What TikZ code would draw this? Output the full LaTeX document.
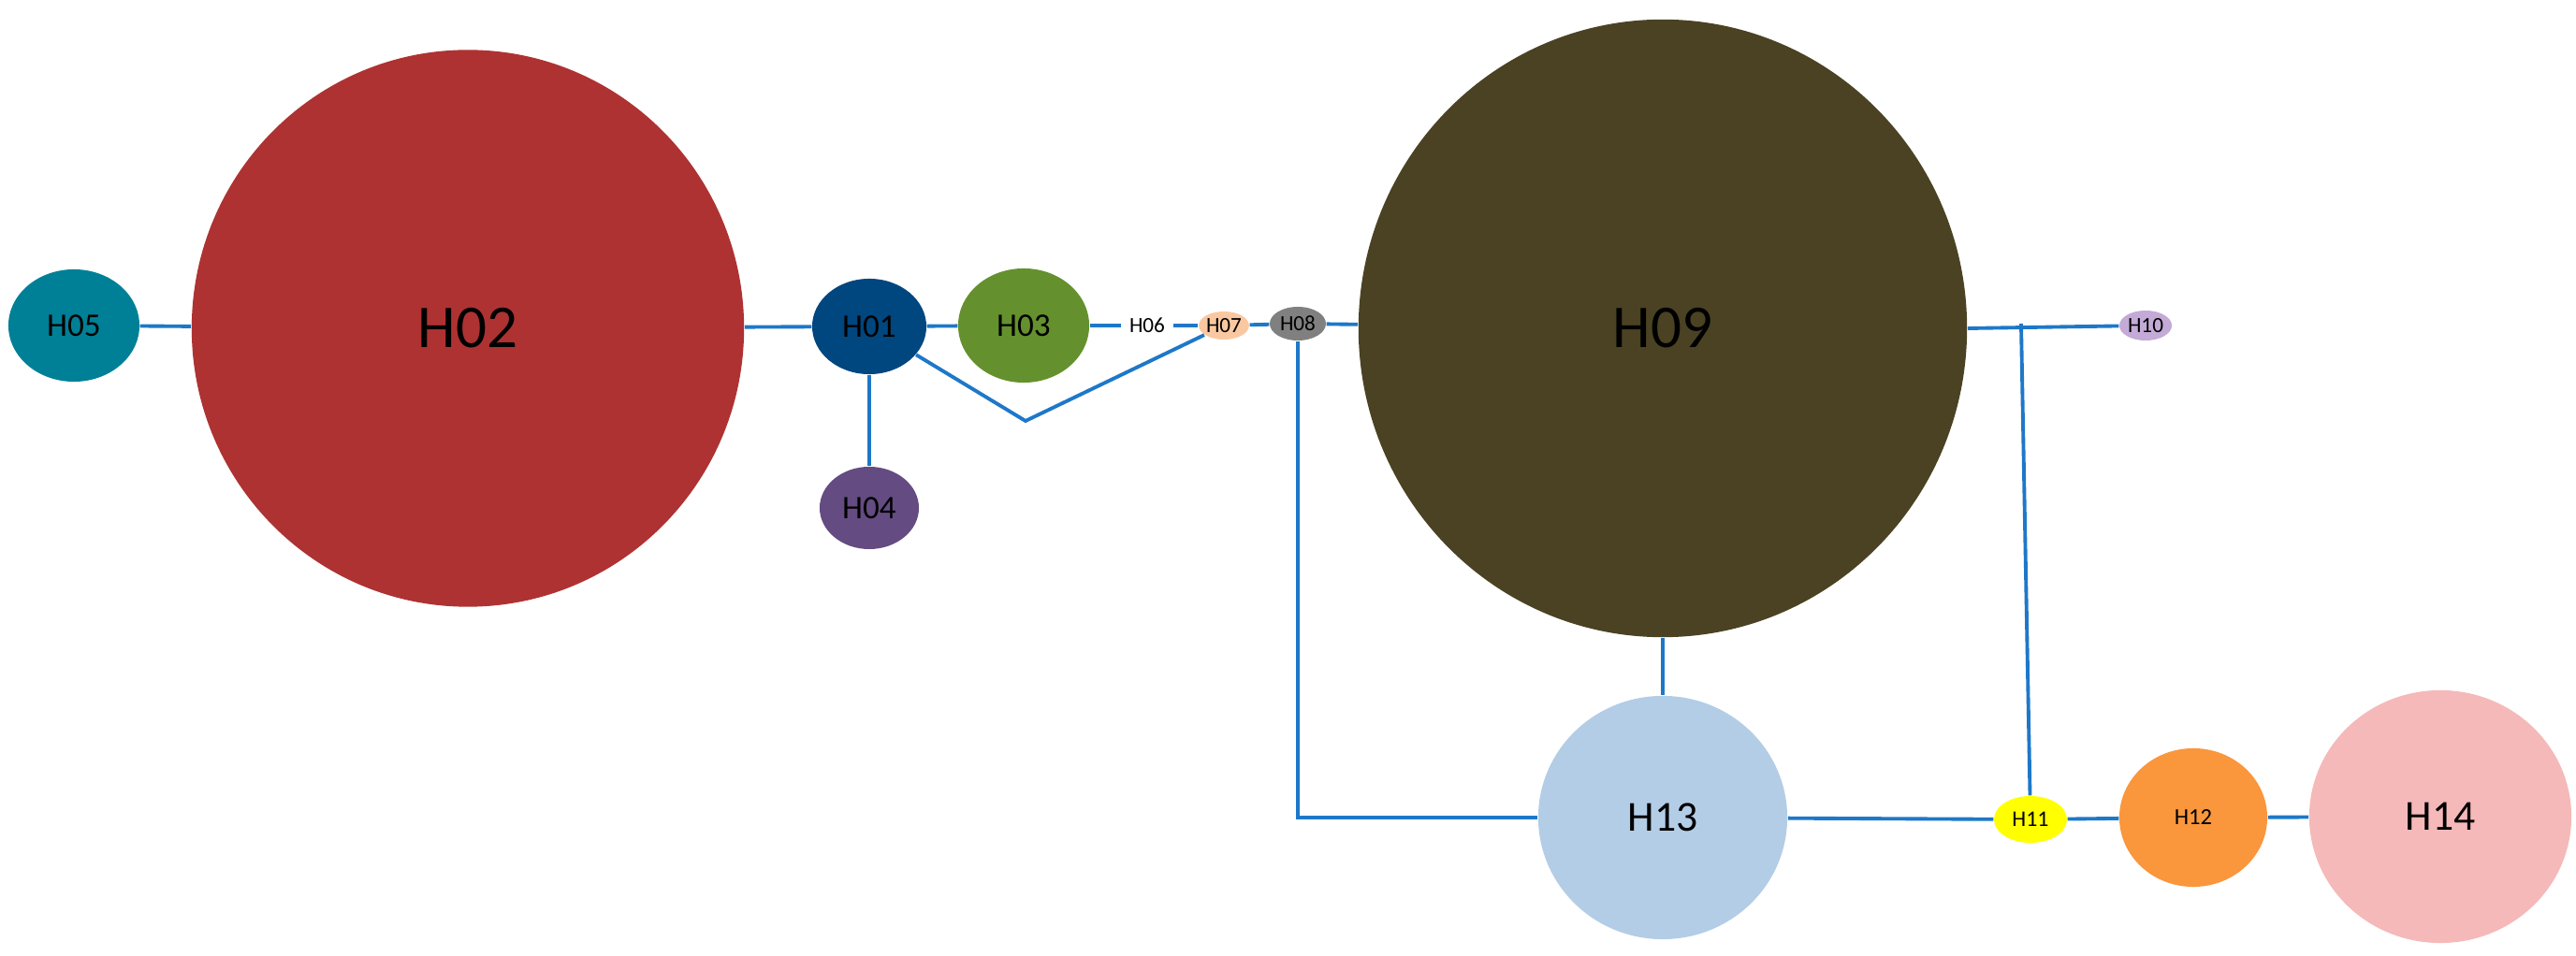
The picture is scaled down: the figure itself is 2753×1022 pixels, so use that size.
\documentclass[tikz,border=0pt]{standalone}
\usepackage{fontspec}
\setmainfont{Carlito}
\usetikzlibrary{shapes.geometric, positioning, calc}
\definecolor{linkblue}{RGB}{30,120,200}
\definecolor{cH05}{RGB}{0,128,150}
\definecolor{cH02}{RGB}{174,50,50}
\definecolor{cH01}{RGB}{0,70,127}
\definecolor{cH03}{RGB}{100,145,45}
\definecolor{cH07}{RGB}{250,200,160}
\definecolor{cH08}{RGB}{128,128,128}
\definecolor{cH09}{RGB}{74,66,35}
\definecolor{cH10}{RGB}{195,170,215}
\definecolor{cH04}{RGB}{100,75,130}
\definecolor{cH13}{RGB}{180,205,230}
\definecolor{cH11}{RGB}{255,255,0}
\definecolor{cH12}{RGB}{250,150,60}
\definecolor{cH14}{RGB}{245,185,185}
\begin{document}
\begin{tikzpicture}[x=0.01cm, y=-0.01cm]
    \tikzset{
        hap/.style={ellipse, draw=none, inner sep=0pt, text=black},
        link/.style={draw=linkblue, line width=1.1pt}
    }
    \useasboundingbox (0,0) rectangle (2753,1022);

    % Haplotypes
    \node[hap, fill=cH05, minimum width=1.40cm, minimum height=1.20cm, font=\fontsize{10}{12}\selectfont] (h05) at (79,348) {H05};
    \node[hap, fill=cH02, minimum width=5.90cm, minimum height=5.95cm, font=\fontsize{18.5}{22}\selectfont] (h02) at (500,351) {H02};
    \node[hap, fill=cH01, minimum width=1.22cm, minimum height=1.02cm, font=\fontsize{10}{12}\selectfont] (h01) at (929,349) {H01};
    \node[hap, fill=cH03, minimum width=1.40cm, minimum height=1.22cm, font=\fontsize{10}{12}\selectfont] (h03) at (1094,348) {H03};
    \node[hap, fill=white, minimum width=0.50cm, minimum height=0.28cm, font=\fontsize{6.6}{8}\selectfont] (h06) at (1226,348) {H06};
    \node[hap, fill=cH07, minimum width=0.50cm, minimum height=0.30cm, font=\fontsize{6.6}{8}\selectfont] (h07) at (1308,348) {H07};
    \node[hap, fill=cH08, minimum width=0.60cm, minimum height=0.36cm, font=\fontsize{6.6}{8}\selectfont] (h08) at (1387,346) {H08};
    \node[hap, fill=cH09, minimum width=6.50cm, minimum height=6.60cm, font=\fontsize{18.5}{22}\selectfont] (h09) at (1777,351) {H09};
    \node[hap, fill=cH10, minimum width=0.56cm, minimum height=0.32cm, font=\fontsize{6.6}{8}\selectfont] (h10) at (2293,348) {H10};
    \node[hap, fill=cH04, minimum width=1.06cm, minimum height=0.88cm, font=\fontsize{10}{12}\selectfont] (h04) at (929,543) {H04};
    \node[hap, fill=cH13, minimum width=2.66cm, minimum height=2.60cm, font=\fontsize{13}{15}\selectfont] (h13) at (1777,874) {H13};
    \node[hap, fill=cH11, minimum width=0.78cm, minimum height=0.50cm, font=\fontsize{6.8}{8}\selectfont] (h11) at (2170,876) {H11};
    \node[hap, fill=cH12, minimum width=1.58cm, minimum height=1.48cm, font=\fontsize{7}{8}\selectfont] (h12) at (2344,874) {H12};
    \node[hap, fill=cH14, minimum width=2.80cm, minimum height=2.70cm, font=\fontsize{13}{15}\selectfont] (h14) at (2608,873) {H14};

    % Links
    \coordinate (vdip) at (1096,450);
    \coordinate (hcorner) at (1387,874);
    \coordinate (tjoin) at (2160,346);
    \draw[link] (h05) -- (h02);
    \draw[link] (h02) -- (h01);
    \draw[link] (h01) -- (h03);
    \draw[link] (h01) -- (h04);
    \draw[link] (h03) -- (h06);
    \draw[link] (h06) -- (h07);
    \draw[link] (h07) -- (h08);
    \draw[link] (h08) -- (h09);
    \draw[link] (h01) -- (vdip) -- (h07);
    \draw[link] (h08) -- (hcorner) -- (h13);
    \draw[link] (h09) -- (h13);
    \draw[link] (h09.east) -- (h10);
    \draw[link] (tjoin) -- (h11);
    \draw[link] (h13) -- (h11);
    \draw[link] (h11) -- (h12);
    \draw[link] (h12) -- (h14);
\end{tikzpicture}
\end{document}
